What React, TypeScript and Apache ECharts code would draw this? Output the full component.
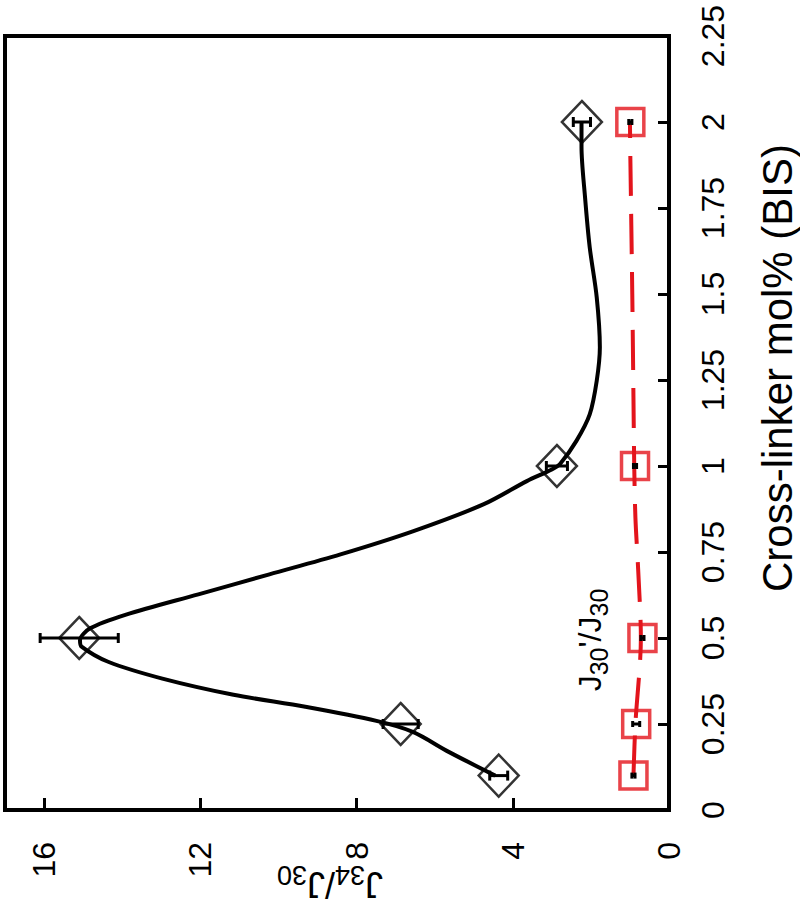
import React, { useEffect, useRef } from 'react';
import * as echarts from 'echarts';

// Measured points (cross-linker mol%) and ratios
const crossLinker = [0.1, 0.25, 0.5, 1, 2];
const ratioJ34 = [4.36, 6.87, 15.1, 2.87, 2.23];
const errJ34 = [0.23, 0.45, 1.0, 0.27, 0.22];
const ratioJ30p = [0.91, 0.84, 0.68, 0.87, 0.99];
const errJ30p = [0.04, 0.09, 0.04, 0.04, 0.04];

// Fitted curves
const fitJ34X = [0.1, 0.169, 0.227, 0.259, 0.3, 0.335, 0.382, 0.431, 0.475, 0.493, 0.528, 0.568, 0.627, 0.685, 0.743, 0.81, 0.889, 0.956, 0.99, 1.006, 1.073, 1.15, 1.248, 1.345, 1.49, 1.636, 1.782, 1.928, 2.0];
const fitJ34Y = [4.45, 5.64, 6.56, 7.49, 9.31, 11.15, 12.97, 14.36, 15.04, 15.08, 14.82, 13.9, 12.05, 10.23, 8.41, 6.56, 4.74, 3.64, 3.0, 2.79, 2.37, 2.03, 1.85, 1.77, 1.85, 2.03, 2.15, 2.24, 2.24];
const fitJ30pX = [0.1, 0.25, 0.5, 0.7, 0.85, 1, 1.2, 1.5, 1.9, 2];
const fitJ30pY = [0.91, 0.86, 0.72, 0.79, 0.86, 0.89, 0.91, 0.94, 0.99, 1.0];

const ratioTicks = { min: 0, max: 17, interval: 4 };
const molTicks = { min: 0, max: 2.25, interval: 0.25 };

const axisTitleMol = 'Cross-linker mol% (BIS)';

export default function App() {
  const ref = useRef<HTMLDivElement>(null);
  useEffect(() => {
    const chart = echarts.init(ref.current as HTMLDivElement, null, { renderer: 'svg' });
    const font = "'Liberation Sans', Arial, sans-serif";
    const red = '#e3141c';

    const errSeries = (xs: number[], ys: number[], es: number[], color: string, cap: number) => ({
      type: 'custom',
      data: xs.map((x, i) => [ys[i] - es[i], ys[i] + es[i], x]),
      encode: { x: [0, 1], y: 2 },
      z: 4,
      renderItem: (params: any, api: any) => {
        const lo = api.coord([api.value(0), api.value(2)]);
        const hi = api.coord([api.value(1), api.value(2)]);
        const st = { stroke: color, lineWidth: 3 };
        return {
          type: 'group',
          children: [
            { type: 'line', shape: { x1: lo[0], y1: lo[1], x2: hi[0], y2: hi[1] }, style: st },
            { type: 'line', shape: { x1: lo[0], y1: lo[1] - cap, x2: lo[0], y2: lo[1] + cap }, style: st },
            { type: 'line', shape: { x1: hi[0], y1: hi[1] - cap, x2: hi[0], y2: hi[1] + cap }, style: st },
          ],
        };
      },
    });

    const option: any = {
      animation: false,
      backgroundColor: '#fff',
      grid: {
        left: 5, right: 131, top: 36, bottom: 100,
        show: true, borderColor: '#000', borderWidth: 4, backgroundColor: 'transparent',
      },
      xAxis: {
        type: 'value',
        min: ratioTicks.min, max: ratioTicks.max, interval: ratioTicks.interval,
        inverse: true,
        position: 'bottom',
        splitLine: { show: false },
        axisLine: { show: true, lineStyle: { color: '#000', width: 4 } },
        axisTick: { show: true, inside: true, length: 12, lineStyle: { color: '#000', width: 3 } },
        axisLabel: {
          rotate: 90, fontSize: 32, color: '#000', fontFamily: font, margin: 32,
          formatter: (v: number) => (v === 17 ? '' : String(v)),
        },
      },
      yAxis: {
        type: 'value',
        min: molTicks.min, max: molTicks.max, interval: molTicks.interval,
        position: 'right',
        splitLine: { show: false },
        axisLine: { show: true, lineStyle: { color: '#000', width: 4 } },
        axisTick: { show: true, inside: true, length: 11, lineStyle: { color: '#000', width: 3 } },
        axisLabel: { rotate: 90, fontSize: 32, color: '#000', fontFamily: font, margin: 28 },
      },
      graphic: [
        {
          type: 'text', x: 777, y: 368, rotation: Math.PI / 2,
          style: { text: axisTitleMol, fontSize: 42, fill: '#000', fontFamily: font, align: 'center', verticalAlign: 'middle' },
        },
        {
          type: 'text', x: 330, y: 884, rotation: Math.PI,
          style: {
            text: '{a|J}{b|34}{a|/J}{b|30}', align: 'center', verticalAlign: 'middle', fill: '#000',
            rich: {
              a: { fontSize: 36, fontFamily: font, lineHeight: 46, verticalAlign: 'middle', fill: '#000' },
              b: { fontSize: 27, fontFamily: font, lineHeight: 46, verticalAlign: 'bottom', fill: '#000' },
            },
          },
        },
        {
          type: 'text', x: 590, y: 640, rotation: Math.PI / 2,
          style: {
            text: "{a|J}{b|30}{a|'/J}{b|30}", align: 'center', verticalAlign: 'middle', fill: '#000',
            rich: {
              a: { fontSize: 32, fontFamily: font, lineHeight: 42, verticalAlign: 'middle', fill: '#000' },
              b: { fontSize: 25, fontFamily: font, lineHeight: 42, verticalAlign: 'bottom', fill: '#000' },
            },
          },
        },
      ],
      series: [
        {
          type: 'line', name: 'fitJ34',
          data: fitJ34X.map((x, i) => [fitJ34Y[i], x]),
          smooth: 0.3, showSymbol: false, symbol: 'none',
          lineStyle: { color: '#000', width: 4 }, z: 2,
        },
        {
          type: 'line', name: 'fitJ30p',
          data: fitJ30pX.map((x, i) => [fitJ30pY[i], x]),
          smooth: 0.3, showSymbol: false, symbol: 'none',
          lineStyle: { color: red, width: 4, type: [40, 18] }, z: 2,
        },
        errSeries(crossLinker, ratioJ34, errJ34, '#000', 5),
        errSeries(crossLinker, ratioJ30p, errJ30p, '#000', 3),
        {
          type: 'scatter', name: 'J34/J30',
          data: crossLinker.map((x, i) => [ratioJ34[i], x]),
          symbol: 'diamond', symbolSize: [40, 42],
          itemStyle: { color: 'rgba(0,0,0,0)', borderColor: '#000', borderWidth: 2.5 }, z: 5,
        },
        {
          type: 'scatter', name: "J30'/J30",
          data: crossLinker.map((x, i) => [ratioJ30p[i], x]),
          symbol: 'rect', symbolSize: 27,
          itemStyle: { color: 'rgba(0,0,0,0)', borderColor: red, borderWidth: 3.5 }, z: 5,
        },
      ],
    };
    chart.setOption(option);
    return () => chart.dispose();
  }, []);
  return (
    <div
      ref={ref}
      style={{ position: 'fixed', left: 0, top: 0, width: 800, height: 910, background: '#fff' }}
    />
  );
}
